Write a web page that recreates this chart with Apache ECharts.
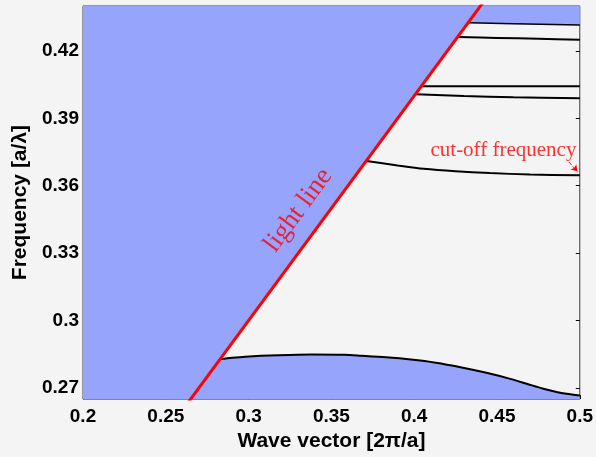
<!DOCTYPE html>
<html><head><meta charset="utf-8">
<script src="https://cdn.jsdelivr.net/npm/echarts@6/dist/echarts.min.js"></script>
<style>html,body{margin:0;padding:0;background:#f4f4f4;}#c{width:596px;height:457px;}</style>
</head><body><div id="c"></div>
<script>
// Axis ticks
const xTicks = [0.2, 0.25, 0.3, 0.35, 0.4, 0.45, 0.5];
const yTicks = [0.27, 0.3, 0.33, 0.36, 0.39, 0.42];
// Light line (omega = k)
const lightK = [0.2, 0.5];
const lightW = [0.2, 0.5];
// Top band edge (bottom of upper blue strip)
const stripK = [0.4328, 0.46, 0.5];
const stripW = [0.4325, 0.4321, 0.4315];
// Guided bands
const band2K = [0.4268, 0.45, 0.475, 0.5];
const band2W = [0.4262, 0.4258, 0.4254, 0.4250];
const band3K = [0.4046, 0.45, 0.5];
const band3W = [0.4043, 0.4043, 0.4043];
const band4K = [0.4010, 0.43, 0.46, 0.5];
const band4W = [0.4007, 0.3999, 0.3994, 0.3989];
const band5K = [0.3712, 0.39, 0.4058, 0.425, 0.4457, 0.47, 0.5];
const band5W = [0.3710, 0.3690, 0.3675, 0.3664, 0.3656, 0.3650, 0.3646];
// Lowest band (top of lower blue region)
const band1K = [0.283, 0.29, 0.298, 0.318, 0.338, 0.358, 0.368, 0.383, 0.398, 0.413, 0.428, 0.443, 0.458, 0.468, 0.478, 0.486, 0.492, 0.5];
const band1W = [0.2828, 0.2834, 0.2839, 0.2845, 0.2848, 0.2847, 0.2843, 0.2836, 0.2826, 0.2812, 0.2792, 0.2768, 0.2740, 0.2718, 0.2696, 0.2682, 0.2674, 0.2666];
// Annotations
const lightLabel = [0.330, 0.349];
const cutLabel = [0.4539, 0.3759];
const arrowFrom = [0.4934, 0.3706];
const arrowTo = [0.4985, 0.3664];

const zip = (a, b) => a.map((v, i) => [v, b[i]]);
const BLUE = '#96a4fc';
const xMin = 0.2, xMax = 0.5, yMin = 0.265, yMax = 0.44;

const chart = echarts.init(document.getElementById('c'));
const fmt = v => String(parseFloat((+v).toFixed(2)));
const bandLine = (k, w) => ({
  type: 'line', data: zip(k, w), smooth: 0.3, showSymbol: false, symbol: 'none',
  lineStyle: {color: '#000', width: 2}, z: 3, silent: true
});
chart.setOption({
  backgroundColor: '#f4f4f4',
  animation: false,
  grid: {left: 83, right: 12, top: 6, bottom: 55, show: true, backgroundColor: '#f4f4f4', borderColor: '#3a3a3a', borderWidth: 1},
  xAxis: [{
    type: 'value', min: xMin, max: xMax, interval: 0.05,
    name: 'Wave vector [2\u03c0/a]', nameLocation: 'middle', nameGap: 26,
    nameTextStyle: {fontFamily: 'Liberation Sans, Arial', fontWeight: 'bold', fontSize: 21, color: '#000'},
    axisLine: {show: false}, splitLine: {show: false},
    axisTick: {inside: true, length: 4, lineStyle: {color: '#000'}},
    axisLabel: {formatter: fmt, margin: 8, fontFamily: 'Liberation Sans, Arial', fontWeight: 'bold', fontSize: 19, color: '#000'}
  }],
  yAxis: [{
    type: 'value', min: yMin, max: yMax,
    name: 'Frequency [a/\u03bb]', nameLocation: 'middle', nameGap: 50, nameRotate: 90,
    nameTextStyle: {fontFamily: 'Liberation Sans, Arial', fontWeight: 'bold', fontSize: 21, color: '#000'},
    axisLine: {show: false}, splitLine: {show: false},
    axisTick: {inside: true, length: 4, customValues: yTicks, lineStyle: {color: '#000'}},
    axisLabel: {customValues: yTicks, formatter: fmt, margin: 4, fontFamily: 'Liberation Sans, Arial', fontWeight: 'bold', fontSize: 19, color: '#000'}
  }, {
    type: 'value', position: 'right', min: yMin, max: yMax,
    axisLine: {show: false}, splitLine: {show: false},
    axisTick: {inside: true, length: 4, customValues: yTicks, lineStyle: {color: '#000'}},
    axisLabel: {show: false}
  }],
  series: [
    // blue region left of light line
    {type: 'line', data: zip(lightK, lightW), symbol: 'none', lineStyle: {width: 0},
     areaStyle: {color: BLUE, opacity: 1, origin: 'end'}, z: 1, silent: true},
    // upper blue strip
    {type: 'line', data: zip(stripK, stripW), symbol: 'none', lineStyle: {color: '#000', width: 1.5},
     areaStyle: {color: BLUE, opacity: 1, origin: 'end'}, z: 1, silent: true},
    // lower blue region
    {type: 'line', data: [[lightK[0] + (yMin - lightW[0]), yMin]].concat(zip(band1K, band1W)), symbol: 'none', smooth: 0.2, lineStyle: {width: 0},
     areaStyle: {color: BLUE, opacity: 1, origin: 'start'}, z: 1, silent: true},
    bandLine(band1K, band1W),
    bandLine(band2K, band2W),
    bandLine(band3K, band3W),
    bandLine(band4K, band4W),
    bandLine(band5K, band5W),
    // light line
    {type: 'line', data: zip(lightK, lightW), symbol: 'none', lineStyle: {color: '#ff0000', width: 3}, z: 5, silent: true},
    // annotations
    {type: 'scatter', symbolSize: 0, z: 6, silent: true,
     data: [{value: lightLabel, label: {show: true, formatter: 'light line', rotate: 53.6, position: 'inside',
       fontFamily: 'Liberation Serif, Times New Roman, serif', fontSize: 27, color: '#ff0000'}},
            {value: cutLabel, label: {show: true, formatter: 'cut-off frequency', position: 'inside',
       fontFamily: 'Liberation Serif, Times New Roman, serif', fontSize: 21, color: '#ff0000'}}],
     markLine: {silent: true, symbol: ['none', 'arrow'], symbolSize: 6, label: {show: false},
       lineStyle: {color: '#ff0000', width: 1, type: 'dashed'},
       data: [[{coord: arrowFrom}, {coord: arrowTo}]]}
    }
  ]
});
</script></body></html>
